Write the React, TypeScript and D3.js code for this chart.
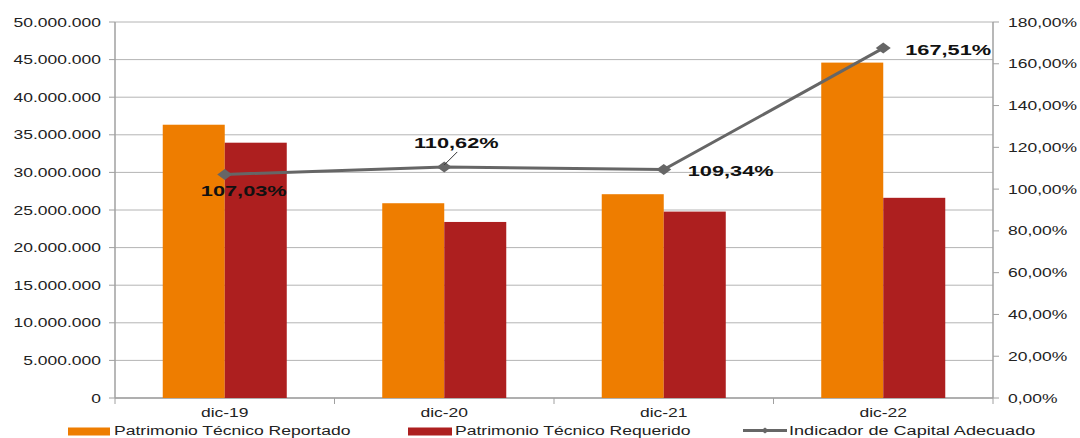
import React from "react";
import * as d3 from "d3";

const categories = ["dic-19", "dic-20", "dic-21", "dic-22"];
const reportado = [36340000, 25900000, 27100000, 44600000];
const requerido = [33950000, 23410000, 24790000, 26620000];
const indicador = [107.03, 110.62, 109.34, 167.51];
const indicadorLabels = ["107,03%", "110,62%", "109,34%", "167,51%"];
const leftTicks = [0, 5000000, 10000000, 15000000, 20000000, 25000000, 30000000, 35000000, 40000000, 45000000, 50000000];
const rightTicks = [0, 20, 40, 60, 80, 100, 120, 140, 160, 180];
const seriesNames = ["Patrimonio Técnico Reportado", "Patrimonio Técnico Requerido", "Indicador de Capital Adecuado"];

const ORANGE = "#EE7D00";
const RED = "#AD1F1F";
const GRAY = "#666666";
const GRID = "#B4B4B4";
const AXIS = "#A0A0A0";
const FONT = "'Liberation Sans', Arial, sans-serif";

const W = 1080, H = 438;
const L = 115, R = 993, T = 22, B = 398;

const fmtLeft = (v: number) => (v === 0 ? "0" : d3.format(",")(v).replace(/,/g, "."));
const fmtRight = (v: number) => v.toFixed(2).replace(".", ",") + "%";

function SText({ x, y, sx, size, anchor, bold, children }: any) {
  return (
    <text
      transform={`translate(${x},${y}) scale(${sx},1)`}
      fontSize={size}
      fontFamily={FONT}
      fontWeight={bold ? "bold" : "normal"}
      textAnchor={anchor}
      fill={bold ? "#111" : "#222"}
    >
      {children}
    </text>
  );
}

export default function App() {
  const x0 = d3.scaleBand<string>().domain(categories).range([L, R]).paddingInner(0.435).paddingOuter(0.2175);
  const x1 = d3.scaleBand<string>().domain(["rep", "req"]).range([0, x0.bandwidth()]);
  const yL = d3.scaleLinear().domain([0, 50000000]).range([B, T]);
  const yR = d3.scaleLinear().domain([0, 180]).range([B, T]);
  const cx = (c: string) => (x0(c) as number) + x0.bandwidth() / 2;

  const line = d3.line<number>().x((_, i) => cx(categories[i])).y((d) => yR(d));
  const step = x0.step();
  const boundaries = d3.range(categories.length + 1).map((i) => L + i * step);

  const labelPos = [
    { dx: 19, dy: 22, anchor: "middle" },
    { dx: 12, dy: -19, anchor: "middle" },
    { dx: 24, dy: 6, anchor: "start" },
    { dx: 22, dy: 7, anchor: "start" },
  ];

  const diamond = (x: number, y: number, hw: number, hh: number) =>
    `M${x - hw},${y}L${x},${y - hh}L${x + hw},${y}L${x},${y + hh}Z`;

  const LEG_Y = 434.5;
  const c1 = cx(categories[1]);
  const p1 = yR(indicador[1]);

  return (
    <svg width={W} height={H} style={{ position: "absolute", left: 0, top: 0, background: "#fff" }}>
      {/* gridlines */}
      {leftTicks.map((t) => (
        <line key={"g" + t} x1={L} x2={R} y1={yL(t)} y2={yL(t)} stroke={GRID} strokeWidth={1} />
      ))}
      {/* left axis */}
      <line x1={L} x2={L} y1={T} y2={B} stroke={AXIS} strokeWidth={1.5} />
      {leftTicks.map((t) => (
        <g key={"l" + t}>
          <line x1={L - 6} x2={L} y1={yL(t)} y2={yL(t)} stroke={AXIS} />
          <SText x={101} y={yL(t) + 4.5} sx={1.4} size={12.5} anchor="end">
            {fmtLeft(t)}
          </SText>
        </g>
      ))}
      {/* right axis */}
      <line x1={R} x2={R} y1={T} y2={B} stroke={AXIS} strokeWidth={1.5} />
      {rightTicks.map((t) => (
        <g key={"r" + t}>
          <line x1={R} x2={R + 6} y1={yR(t)} y2={yR(t)} stroke={AXIS} />
          <SText x={1008} y={yR(t) + 4.5} sx={1.4} size={12.5} anchor="start">
            {fmtRight(t)}
          </SText>
        </g>
      ))}
      {/* bottom axis */}
      <line x1={L} x2={R} y1={B} y2={B} stroke={AXIS} strokeWidth={1.5} />
      {boundaries.map((b, i) => (
        <line key={"b" + i} x1={b} x2={b} y1={B} y2={B + 6} stroke={AXIS} />
      ))}
      {categories.map((c) => (
        <SText key={"c" + c} x={cx(c)} y={417} sx={1.4} size={12.5} anchor="middle">
          {c}
        </SText>
      ))}
      {/* bars */}
      {categories.map((c, i) => (
        <g key={"bar" + c}>
          <rect
            x={(x0(c) as number) + (x1("rep") as number)}
            y={yL(reportado[i])}
            width={x1.bandwidth()}
            height={B - yL(reportado[i])}
            fill={ORANGE}
          />
          <rect
            x={(x0(c) as number) + (x1("req") as number)}
            y={yL(requerido[i])}
            width={x1.bandwidth()}
            height={B - yL(requerido[i])}
            fill={RED}
          />
        </g>
      ))}
      {/* line */}
      <path d={line(indicador) || ""} fill="none" stroke={GRAY} strokeWidth={3} />
      {indicador.map((v, i) => (
        <path key={"m" + i} d={diamond(cx(categories[i]), yR(v), 7.5, 5.5)} fill={GRAY} />
      ))}
      {/* leader line for 110,62% */}
      <line x1={c1 + 13} y1={p1 - 15} x2={c1} y2={p1 - 2} stroke="#333" strokeWidth={1} />
      {/* data labels */}
      {indicador.map((v, i) => (
        <SText
          key={"dl" + i}
          x={cx(categories[i]) + labelPos[i].dx}
          y={yR(v) + labelPos[i].dy}
          sx={1.5}
          size={14.5}
          anchor={labelPos[i].anchor}
          bold
        >
          {indicadorLabels[i]}
        </SText>
      ))}
      {/* legend */}
      <rect x={68} y={LEG_Y - 7} width={42} height={8} fill={ORANGE} />
      <SText x={114} y={LEG_Y} sx={1.3} size={13.5} anchor="start">
        {seriesNames[0]}
      </SText>
      <rect x={408} y={LEG_Y - 7} width={44} height={8} fill={RED} />
      <SText x={455} y={LEG_Y} sx={1.3} size={13.5} anchor="start">
        {seriesNames[1]}
      </SText>
      <line x1={743} x2={787} y1={LEG_Y - 4} y2={LEG_Y - 4} stroke={GRAY} strokeWidth={3} />
      <path d={diamond(765, LEG_Y - 4, 4, 3)} fill={GRAY} />
      <SText x={789} y={LEG_Y} sx={1.34} size={13.5} anchor="start">
        {seriesNames[2]}
      </SText>
    </svg>
  );
}
